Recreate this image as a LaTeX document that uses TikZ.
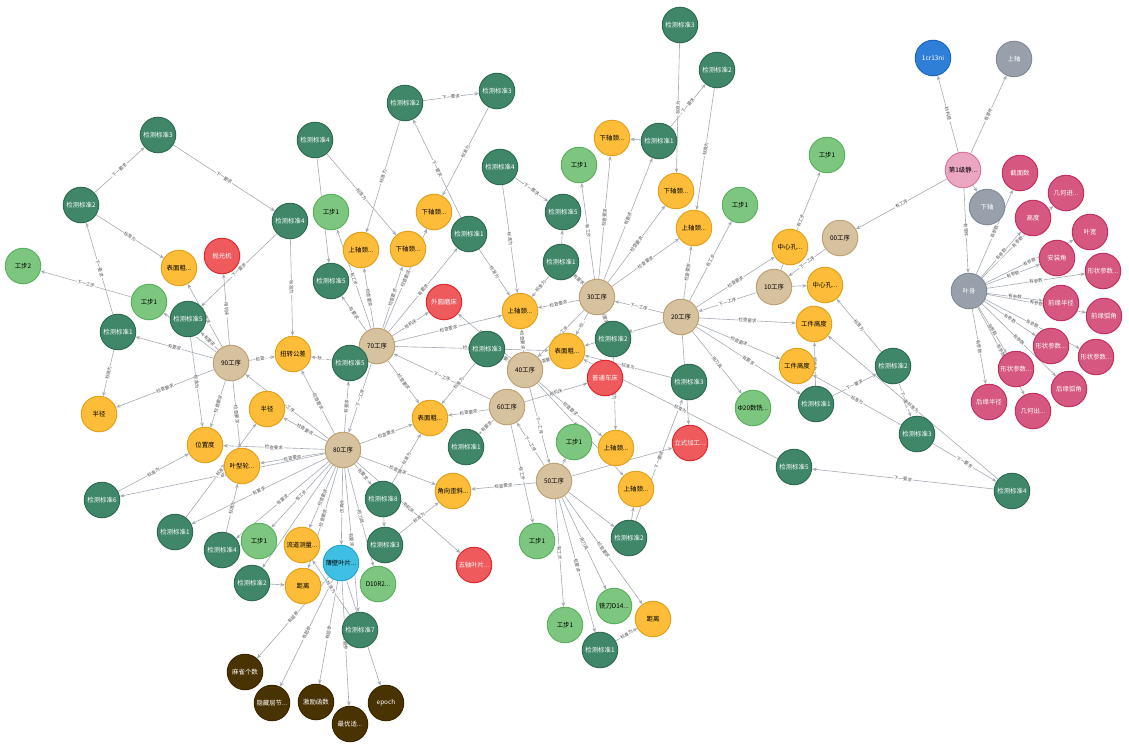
\documentclass[tikz,border=0pt]{standalone}
\usepackage{fontspec}
\setmainfont{Noto Sans CJK SC}
\usetikzlibrary{arrows.meta}
\pgfdeclarelayer{back}
\pgfdeclarelayer{bg}
\pgfsetlayers{back,bg,main}
\definecolor{edgec}{HTML}{A5ABB6}
\definecolor{labc}{HTML}{555555}
\definecolor{stdf}{HTML}{40876A}\definecolor{stdd}{HTML}{2F6C53}
\definecolor{stpf}{HTML}{7DC67F}\definecolor{stpd}{HTML}{5DB060}
\definecolor{orf}{HTML}{FDBD38}\definecolor{ord}{HTML}{E2A11E}
\definecolor{prf}{HTML}{D7C29F}\definecolor{prd}{HTML}{BFA176}
\definecolor{rdf}{HTML}{EF5A5C}\definecolor{rdd}{HTML}{E0292E}
\definecolor{pkf}{HTML}{EBA6C1}\definecolor{pkd}{HTML}{D9779D}
\definecolor{mgf}{HTML}{D6577F}\definecolor{mgd}{HTML}{C2305F}
\definecolor{gyf}{HTML}{98A0AC}\definecolor{gyd}{HTML}{838B97}
\definecolor{blf}{HTML}{2F7FD8}\definecolor{bld}{HTML}{1E66BC}
\definecolor{cyf}{HTML}{3FBFE4}\definecolor{cyd}{HTML}{23A5CD}
\definecolor{brf}{HTML}{4A3303}\definecolor{brd}{HTML}{3A2700}
\tikzset{
  base/.style={circle,minimum size=35.5pt,inner sep=0pt,line width=1pt,font=\fontsize{6.4}{7}\selectfont},
  stdn/.style={base,fill=stdf,draw=stdd,text=white},
  stpn/.style={base,fill=stpf,draw=stpd,text=black},
  orn/.style={base,fill=orf,draw=ord,text=black},
  prn/.style={base,fill=prf,draw=prd,text=black},
  rdn/.style={base,fill=rdf,draw=rdd,text=white},
  pkn/.style={base,fill=pkf,draw=pkd,text=black},
  mgn/.style={base,fill=mgf,draw=mgd,text=white},
  gyn/.style={base,fill=gyf,draw=gyd,text=white},
  bln/.style={base,fill=blf,draw=bld,text=white},
  cyn/.style={base,fill=cyf,draw=cyd,text=black},
  brn/.style={base,fill=brf,draw=brd,text=white},
  edge/.style={draw=edgec,line width=0.6pt,-{Stealth[length=4.5pt,width=3.6pt]}},
  elab/.style={sloped,midway,fill=white,inner sep=0.6pt,text=labc,font=\fontsize{4.5}{5}\selectfont}
}
\newcommand\mynode[5]{\node[#1] (#2) at (#3,#4) {#5};}
\newcommand\myedge[3]{\draw[edge] (#1) -- node[elab]{#3} (#2);}
\newcommand\myline[2]{\draw[edge] (#1) -- (#2);}
\begin{document}
\begin{tikzpicture}[x=1pt,y=-1pt]
\begin{pgfonlayer}{back}
\fill[white] (0,0) rectangle (1129,747);
\end{pgfonlayer}
\useasboundingbox (0,0) rectangle (1129,747);
% ---- left
\mynode{stdn}{s3a}{158}{135}{检测标准3}
\mynode{stdn}{s2a}{81}{205}{检测标准2}
\mynode{stdn}{s4a}{290}{221}{检测标准4}
\mynode{stpn}{g2}{23}{266}{工步2}
\mynode{orn}{bm1}{179}{268}{表面粗...}
\mynode{rdn}{pg}{222}{256}{抛光机}
\mynode{stpn}{w1a}{149}{302}{工步1}
\mynode{stdn}{s5a}{188}{319}{检测标准5}
\mynode{stdn}{s1a}{118}{332}{检测标准1}
\mynode{prn}{p90}{231}{363}{90工序}
\mynode{orn}{nz}{293}{354}{扭转公差}
\mynode{orn}{bj1}{99}{414}{半径}
\mynode{orn}{bj2}{267}{409}{半径}
\mynode{orn}{wzd}{205}{445}{位置度}
\mynode{orn}{yx}{242}{466}{叶型轮...}
\mynode{stdn}{s6}{102}{500}{检测标准6}
\mynode{stdn}{s1b}{175}{532}{检测标准1}
\mynode{stdn}{s4b}{222}{550}{检测标准4}
\mynode{stpn}{w1b}{259}{541}{工步1}
\mynode{stdn}{s2b}{252}{583}{检测标准2}
\mynode{orn}{ld}{302}{545}{流道测量...}
\mynode{orn}{jl1}{303}{586}{距离}
\mynode{cyn}{bb}{341}{563}{薄壁叶片...}
\mynode{stpn}{d10}{378}{584}{D10R2...}
\mynode{stdn}{s3b}{385}{545}{检测标准3}
\mynode{stdn}{s8}{383}{499}{检测标准8}
\mynode{stdn}{s7}{360}{630}{检测标准7}
\mynode{prn}{p80}{343}{450}{80工序}
\mynode{brn}{m1}{245}{672}{麻雀个数}
\mynode{brn}{m2}{272}{703}{隐藏层节...}
\mynode{brn}{m3}{316}{702}{激励函数}
\mynode{brn}{m4}{350}{724}{最优适...}
\mynode{brn}{m5}{386}{703}{epoch}
% ---- middle
\mynode{stdn}{s4c}{315}{140}{检测标准4}
\mynode{stpn}{w1c}{331}{212}{工步1}
\mynode{stdn}{s5b}{331}{281}{检测标准5}
\mynode{orn}{sz1}{361}{250}{上轴颈...}
\mynode{orn}{xz1}{408}{249}{下轴颈...}
\mynode{orn}{xz2}{434}{212}{下轴颈...}
\mynode{stdn}{s2c}{405}{103}{检测标准2}
\mynode{stdn}{s3c}{497}{91}{检测标准3}
\mynode{stdn}{s1c}{469}{234}{检测标准1}
\mynode{rdn}{wy}{444}{302}{外圆磨床}
\mynode{prn}{p70}{377}{346}{70工序}
\mynode{stdn}{s5c}{350}{363}{检测标准5}
\mynode{stdn}{s3d}{487}{349}{检测标准3}
\mynode{orn}{sz2}{520}{311}{上轴颈...}
\mynode{orn}{bm2}{430}{418}{表面粗...}
\mynode{prn}{p40}{525}{370}{40工序}
\mynode{prn}{p60}{507}{407}{60工序}
\mynode{orn}{bm3}{567}{351}{表面粗...}
\mynode{prn}{p30}{597}{297}{30工序}
\mynode{stdn}{s2e}{613}{339}{检测标准2}
\mynode{rdn}{pt}{605}{378}{普通车床}
\mynode{stdn}{s1h}{466}{447}{检测标准1}
\mynode{orn}{jx}{453}{491}{角向歪斜...}
\mynode{rdn}{wz}{474}{565}{五轴叶片...}
\mynode{stpn}{w1g}{574}{442}{工步1}
\mynode{prn}{p50}{554}{481}{50工序}
\mynode{orn}{sz4}{616}{448}{上轴颈...}
\mynode{orn}{sz5}{636}{489}{上轴颈...}
\mynode{rdn}{lj}{690}{443}{立式加工...}
\mynode{stdn}{s2g}{629}{538}{检测标准2}
\mynode{stpn}{w1h}{537}{541}{工步1}
\mynode{stpn}{xd}{614}{606}{铣刀D14...}
\mynode{orn}{jl2}{653}{619}{距离}
\mynode{stpn}{w1i}{565}{625}{工步1}
\mynode{stdn}{s1g}{600}{650}{检测标准1}
% ---- top centre
\mynode{stdn}{s3e}{680}{25}{检测标准3}
\mynode{stdn}{s2d}{717}{70}{检测标准2}
\mynode{stdn}{s1e}{659}{141}{检测标准1}
\mynode{orn}{xz3}{612}{138}{下轴颈...}
\mynode{stpn}{w1d}{579}{165}{工步1}
\mynode{orn}{xz4}{676}{191}{下轴颈...}
\mynode{orn}{sz3}{694}{228}{上轴颈...}
\mynode{stdn}{s4d}{500}{167}{检测标准4}
\mynode{stdn}{s5d}{563}{212}{检测标准5}
\mynode{stdn}{s1d}{561}{262}{检测标准1}
\mynode{stpn}{w1e}{740}{205}{工步1}
\mynode{stpn}{w1f}{827}{155}{工步1}
\mynode{prn}{p00}{840}{238}{00工序}
\mynode{orn}{zx1}{790}{247}{中心孔...}
\mynode{prn}{p10}{774}{287}{10工序}
\mynode{orn}{zx2}{825}{285}{中心孔...}
\mynode{prn}{p20}{681}{317}{20工序}
\mynode{orn}{gj1}{814}{324}{工件高度}
\mynode{orn}{gj2}{797}{366}{工件高度}
\mynode{stdn}{s3f}{689}{382}{检测标准3}
\mynode{stpn}{phi}{753}{408}{Φ20数铣...}
\mynode{stdn}{s1f}{816}{404}{检测标准1}
\mynode{stdn}{s2f}{893}{366}{检测标准2}
\mynode{stdn}{s3g}{917}{434}{检测标准3}
\mynode{stdn}{s5e}{794}{467}{检测标准5}
\mynode{stdn}{s4e}{1012}{491}{检测标准4}
% ---- right
\mynode{bln}{cr}{933}{58}{1cr13ni}
\mynode{gyn}{sa}{1014}{59}{上轴}
\mynode{pkn}{jing}{963}{170}{第1级静...}
\mynode{gyn}{xa}{987}{207}{下轴}
\mynode{gyn}{ys}{969}{291}{叶身}
\mynode{mgn}{q1}{1020}{173}{截面数}
\mynode{mgn}{q2}{1066}{193}{几何进...}
\mynode{mgn}{q3}{1033}{218}{高度}
\mynode{mgn}{q4}{1090}{232}{叶宽}
\mynode{mgn}{q5}{1057}{258}{安装角}
\mynode{mgn}{q6}{1103}{271}{形状参数...}
\mynode{mgn}{q7}{1061}{303}{前缘半径}
\mynode{mgn}{q8}{1104}{316}{前缘弧角}
\mynode{mgn}{q9}{1051}{346}{形状参数...}
\mynode{mgn}{q10}{1096}{357}{形状参数...}
\mynode{mgn}{q11}{1069}{389}{后缘弧角}
\mynode{mgn}{q12}{1016}{369}{形状参数...}
\mynode{mgn}{q13}{989}{402}{后缘半径}
\mynode{mgn}{q14}{1033}{411}{几何出...}
\begin{pgfonlayer}{bg}
% left
\myedge{s2a}{s3a}{下一要求}
\myedge{s3a}{s4a}{下一要求}
\myedge{s2a}{bm1}{标准为}
\myedge{s4a}{s5a}{下一要求}
\myedge{s1a}{s2a}{下一要求}
\myedge{w1a}{g2}{下一工步}
\myedge{p90}{s1a}{有要求}
\myedge{p90}{w1a}{有工步}
\myedge{p90}{s5a}{有要求}
\myedge{p90}{bm1}{检查要求}
\myedge{p90}{pg}{用机床}
\myedge{s5a}{wzd}{标准为}
\myedge{s1a}{bj1}{标准为}
\myedge{p90}{bj1}{检查要求}
\myedge{p90}{wzd}{检查要求}
\myedge{p90}{yx}{检查要求}
\myedge{p90}{nz}{检查...}
\myedge{s4a}{nz}{标准为}
\myedge{s5c}{nz}{标...}
\myedge{p80}{p90}{下一工序}
\myedge{p80}{bj2}{检查要求}
\myedge{p80}{wzd}{检查要求}
\myedge{p80}{yx}{检查要求}
\myedge{p80}{nz}{检查要求}
\myedge{p80}{s5c}{有要求}
\myedge{p70}{p80}{下一工序}
\myedge{p80}{s6}{有要求}
\myedge{s6}{wzd}{标准为}
\myedge{s1b}{bj2}{标准为}
\myedge{s4b}{yx}{标准为}
\myedge{p80}{s1b}{有要求}
\myedge{p80}{s4b}{有要求}
\myedge{p80}{w1b}{有工步}
\myline{p80}{s2b}
\myedge{p80}{ld}{检查要求}
\myedge{p80}{jl1}{检查要求}
\myedge{p80}{bb}{仿真件}
\myedge{p80}{d10}{用刀具}
\myedge{p80}{s8}{有要求}
\myedge{p80}{s7}{有要求}
\myedge{p80}{bm2}{检查要求}
\myedge{p80}{jx}{检查要求}
\myedge{p80}{wz}{用机床}
\myedge{s8}{bm2}{标准为}
\myedge{s3b}{jx}{标准为}
\myline{s2b}{jl1}
\myedge{bb}{m1}{有超参}
\myedge{bb}{m2}{有超参}
\myedge{bb}{m3}{有超参}
\myedge{bb}{m4}{有超参}
\myedge{bb}{m5}{有超参}
\myedge{s7}{ld}{标准为}
\myline{s8}{s3b}
% middle
\myline{s4c}{s5b}
\myedge{s4c}{xz1}{标准为}
\myedge{s2c}{sz1}{标准为}
\myedge{s2c}{s3c}{下一要求}
\myedge{s3c}{xz2}{标准为}
\myedge{s1c}{s2c}{下一要求}
\myedge{s1c}{sz2}{标准为}
\myedge{p70}{w1c}{有工步}
\myedge{p70}{sz1}{检查要求}
\myedge{p70}{xz1}{检查要求}
\myedge{p70}{xz2}{检查要求}
\myedge{p70}{s1c}{有要求}
\myedge{p70}{s5b}{有要求}
\myedge{p70}{wy}{用机床}
\myedge{p70}{sz2}{检查要求}
\myedge{p70}{bm3}{检查要求}
\myedge{p70}{bm2}{检查要求}
\myedge{p60}{p70}{下一工序}
\myedge{s3d}{bm2}{标准为}
\myedge{p40}{sz2}{检查要求}
\myedge{p40}{s3d}{有要求}
\myedge{p40}{bm3}{检查要求}
\myedge{p40}{wy}{用机床}
\myedge{p60}{pt}{用机床}
\myedge{p40}{sz4}{检查要求}
\myedge{p40}{sz5}{检查要求}
\myedge{p30}{p40}{下一工序}
\myedge{p40}{p50}{下一工序}
\myedge{p50}{p60}{下一工序}
\myedge{p60}{w1h}{有工步}
\myedge{p60}{bm2}{检查要求}
\myedge{p60}{s1h}{有要求}
\myedge{p50}{jx}{检查要求}
\myline{p50}{w1g}
\myedge{p50}{lj}{用机床}
\myedge{p50}{w1i}{有工步}
\myedge{p50}{s1g}{有要求}
\myedge{p50}{xd}{用刀具}
\myedge{p50}{jl2}{检查要求}
\myedge{s1g}{jl2}{标准为}
\myline{p50}{s2g}
\myline{s2g}{sz5}
\myedge{s2g}{s3f}{下一要求}
\myedge{s2e}{sz4}{标准为}
\myedge{s5e}{bm3}{标准为}
\myedge{s3f}{bm3}{标准为}
% top centre
\myedge{s4d}{s5d}{下一要求}
\myedge{s4d}{sz2}{标准为}
\myline{s1d}{s5d}
\myedge{s1d}{sz2}{标准为}
\myedge{p30}{w1d}{有工步}
\myedge{p30}{xz3}{检查要求}
\myedge{p30}{s1e}{有要求}
\myedge{p30}{xz4}{检查要求}
\myedge{p30}{sz3}{检查要求}
\myedge{p30}{sz2}{检查要求}
\myedge{p30}{s1d}{有要求}
\myedge{p30}{bm3}{检...}
\myedge{p30}{s2e}{有要求}
\myline{s1e}{xz3}
\myedge{s1e}{s2d}{下一要求}
\myedge{s3e}{xz4}{标准为}
\myedge{s2d}{sz3}{标准为}
\myedge{p20}{p30}{下一工序}
\myedge{p20}{bm3}{检查要求}
\myedge{p20}{sz3}{检查要求}
\myedge{p20}{w1e}{有工步}
\myedge{p20}{gj1}{检查要求}
\myedge{p20}{gj2}{检查要求}
\myedge{p20}{lj}{用机床}
\myedge{p20}{phi}{用刀具}
\myedge{p20}{s1f}{有要求}
\myedge{p10}{p20}{下一工序}
\myedge{p20}{zx1}{检查要求}
\myline{p10}{zx2}
\myedge{p10}{w1f}{有工步}
\myedge{p00}{p10}{下一工序}
\myedge{s1f}{gj1}{标准为}
\myedge{s1f}{s2f}{下一要求}
\myedge{s2f}{s3g}{下一要求}
\myedge{s3g}{s4e}{下一要求}
\myedge{s4e}{s5e}{下一要求}
\myedge{s3g}{gj2}{标准为}
\myedge{s4e}{gj1}{标准为}
\myedge{s2f}{zx2}{标准为}
% right
\myedge{jing}{cr}{材料是}
\myedge{jing}{sa}{有零件}
\myline{jing}{xa}
\myedge{jing}{ys}{有零件}
\myedge{jing}{p00}{有工序}
\myedge{ys}{q1}{有参数}
\myedge{ys}{q2}{有参数}
\myedge{ys}{q3}{有参数}
\myedge{ys}{q4}{有参数}
\myedge{ys}{q5}{有参数}
\myedge{ys}{q6}{有参数}
\myedge{ys}{q7}{有参数}
\myedge{ys}{q8}{有参数}
\myedge{ys}{q9}{有参数}
\myedge{ys}{q10}{有参数}
\myedge{ys}{q11}{有参数}
\myedge{ys}{q12}{有参数}
\myedge{ys}{q13}{有参数}
\myedge{ys}{q14}{有参数}
\end{pgfonlayer}
\end{tikzpicture}
\end{document}
